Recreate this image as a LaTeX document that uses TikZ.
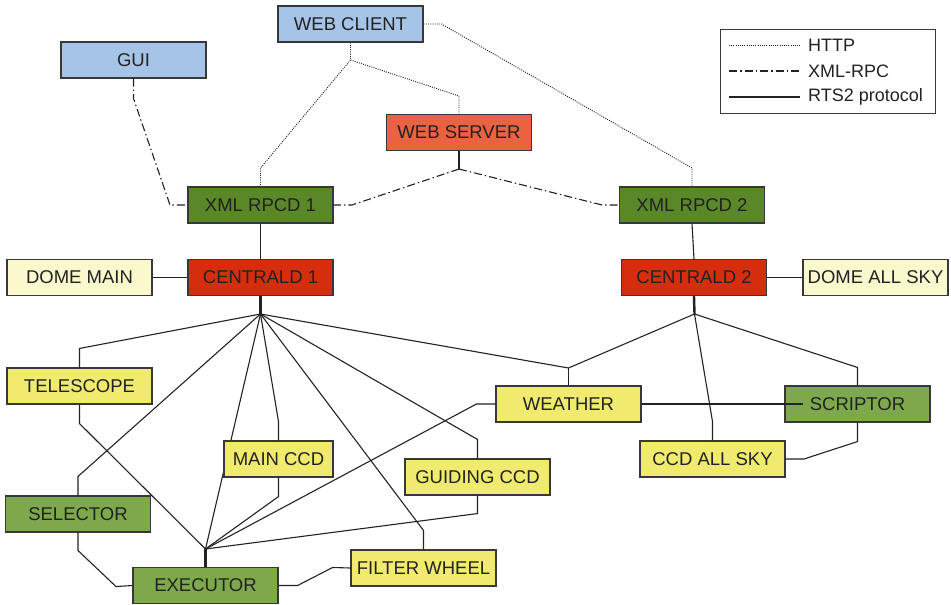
\documentclass[tikz,border=0pt]{standalone}
\usepackage{fontspec}
\setmainfont{Liberation Sans}
\usetikzlibrary{backgrounds}
\definecolor{cblue}{HTML}{A5C4E8}
\definecolor{corange}{HTML}{EA6240}
\definecolor{cdgreen}{HTML}{5A8728}
\definecolor{cred}{HTML}{D72D0F}
\definecolor{cpale}{HTML}{FAF8CD}
\definecolor{cyel}{HTML}{F0EB6E}
\definecolor{cgreen}{HTML}{7DA84B}
\definecolor{ink}{HTML}{222222}
\begin{document}
\begin{tikzpicture}[x=1pt,y=-1pt,
  box/.style={draw=ink!90, line width=1.1pt, minimum width=145pt, minimum height=36pt, inner sep=0pt,
    font=\fontsize{18.5}{22}\selectfont, text=ink},
  conn/.style={line width=1.1pt, draw=ink},
  http/.style={line width=0.9pt, draw=ink, dash pattern=on 1pt off 1.2pt},
  rpc/.style={line width=1.1pt, draw=ink, dash pattern=on 8pt off 3pt on 1.5pt off 3pt},
  stub/.style={line width=2.4pt, draw=ink},
  lfont/.style={font=\fontsize{18}{21}\selectfont, text=ink, inner sep=0pt}]
\useasboundingbox (0,0) rectangle (951,605);

% nodes
\node[box, fill=cblue] (web) at (350.5,24) {WEB CLIENT};
\node[box, fill=cblue] (gui) at (133.5,60) {GUI};
\node[box, fill=corange] (ws) at (459,132.5) {WEB SERVER};
\node[box, fill=cdgreen] (x1) at (260.5,205) {XML RPCD 1};
\node[box, fill=cdgreen] (x2) at (692,205) {XML RPCD 2};
\node[box, fill=cred] (c1) at (260.5,277.5) {CENTRALD 1};
\node[box, fill=cred] (c2) at (694,277.5) {CENTRALD 2};
\node[box, fill=cpale] (dm) at (79.5,277.5) {DOME MAIN};
\node[box, fill=cpale] (das) at (875.5,277.5) {DOME ALL SKY};
\node[box, fill=cyel] (tel) at (79.5,386) {TELESCOPE};
\node[box, fill=cgreen] (sel) at (78,514) {SELECTOR};
\node[box, fill=cgreen] (exe) at (205.5,585.5) {EXECUTOR};
\node[box, fill=cyel] (fw) at (423.5,568) {FILTER WHEEL};
\node[box, fill=cyel, minimum width=109pt] (mccd) at (278.5,459) {MAIN CCD};
\node[box, fill=cyel] (gccd) at (477.5,477) {GUIDING CCD};
\node[box, fill=cyel] (wea) at (568.5,404) {WEATHER};
\node[box, fill=cyel] (cas) at (712.5,459) {CCD ALL SKY};
\node[box, fill=cgreen] (scr) at (857.5,404) {SCRIPTOR};

% junctions
\coordinate (h1) at (260.5,314);
\coordinate (h2) at (694.5,314);
\coordinate (he) at (205.5,549);
\coordinate (wj) at (568.5,368);
\coordinate (wsj) at (459,169);
\coordinate (wcj) at (350.5,60);
\coordinate (scrin) at (803,404);

% line behind MAIN CCD
\begin{scope}[on background layer]
\draw[conn] (h1) -- (he);
\end{scope}

% RTS2 protocol connectors
\draw[conn] (x1.south) -- (c1.north);
\draw[conn] (x2.south) -- (c2.north);
\draw[conn] (dm.east) -- (c1.west);
\draw[conn] (c2.east) -- (das.west);
\draw[stub] (c1.south) -- (h1);
\draw[stub] (c2.south) -- (h2);
\draw[stub] (exe.north) -- (he);

\draw[conn] (tel.north) -- ++(0,-19) -- (h1);
\draw[conn] (sel.north) -- ++(0,-19) -- (h1);
\draw[conn] (mccd.north) -- ++(0,-19) -- (h1);
\draw[conn] (fw.north) -- ++(0,-19) -- (h1);
\draw[conn] (gccd.north) -- ++(0,-19) -- (h1);
\draw[conn] (wea.north) -- (wj);
\draw[conn] (h1) -- (wj) -- (h2);
\draw[conn] (cas.north) -- ++(0,-19) -- (h2);
\draw[conn] (scr.north) -- ++(0,-18) -- (h2);

\draw[conn] (tel.south) -- ++(0,19) -- (he);
\draw[conn] (mccd.south) -- ++(0,19) -- (he);
\draw[conn] (gccd.south) -- ++(0,18) -- (he);
\draw[conn] (wea.west) -- ++(-19,0) -- (he);
\draw[conn] (sel.south) -- ++(0,18) -- ++(38,36) -- (exe.west);
\draw[conn] (exe.east) -- ++(19,0) -- ++(35,-18) -- (fw.west);
\draw[conn] (wea.east) -- (scrin);
\draw[conn] (scr.south) -- ++(0,19) -- (804,459) -- (cas.east);

% HTTP
\draw[http] (web.south) -- (wcj) -- (260.5,168) -- (x1.north);
\draw[http] (wcj) -- (459,96) -- (ws.north);
\draw[http] (web.east) -- ++(18,0) -- (692,168) -- (x2.north);

% XML-RPC
\draw[rpc] (gui.south) -- ++(0,20) -- (170,205) -- (x1.west);
\draw[conn] (ws.south) -- (wsj);
\draw[rpc] (wsj) -- (352,205) -- (x1.east);
\draw[rpc] (wsj) -- (602,205) -- (x2.west);

% legend
\node[draw=ink!90, line width=1pt, minimum width=215pt, minimum height=84pt, inner sep=0pt] (leg) at (827.5,71) {};
\coordinate (l1a) at (729,45); \coordinate (l1b) at (800,45);
\coordinate (l2a) at (729,71); \coordinate (l2b) at (800,71);
\coordinate (l3a) at (729,97); \coordinate (l3b) at (800,97);
\draw[http] (l1a) -- (l1b);
\draw[rpc] (l2a) -- (l2b);
\draw[conn] (l3a) -- (l3b);
\node[lfont, anchor=west] (lt1) at (808,45) {HTTP};
\node[lfont, anchor=west] (lt2) at (808,71) {XML-RPC};
\node[lfont, anchor=west] (lt3) at (808,97) {RTS2 protocol};
\end{tikzpicture}
\end{document}
